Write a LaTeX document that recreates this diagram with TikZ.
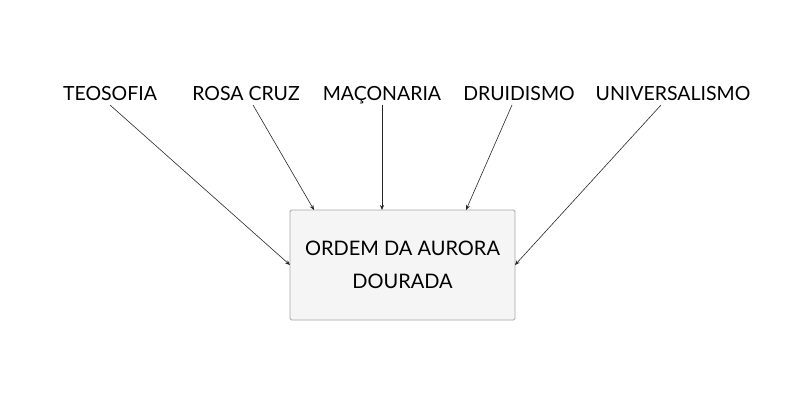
\documentclass[tikz,border=0pt]{standalone}
\usepackage{fontspec}
\setmainfont{Lato}
\usetikzlibrary{arrows.meta}
\begin{document}
\begin{tikzpicture}[x=1pt,y=1pt,
  lab/.style={font=\fontsize{19.5}{22}\selectfont, text=black, inner sep=0pt, anchor=base},
  conn/.style={draw=black!85, line width=0.6pt, -{Stealth[length=5pt,width=4pt]}},
  mainbox/.style={draw=black!35, fill=black!4, rounded corners=1.5pt, line width=0.8pt,
     minimum width=225pt, minimum height=110pt, align=center,
     font=\fontsize{20}{33}\selectfont}]
\useasboundingbox (0,0) rectangle (800,400);
\node[mainbox] (box) at (402.5,135) {ORDEM DA AURORA\\DOURADA};
\node[lab] (t) at (110,300) {TEOSOFIA};
\node[lab] (r) at (246,300) {ROSA CRUZ};
\node[lab] (m) at (382,300) {MAÇONARIA};
\node[lab] (d) at (519,300) {DRUIDISMO};
\node[lab] (u) at (673,300) {UNIVERSALISMO};
\coordinate (bt) at (290,135);
\coordinate (br) at (314,190);
\coordinate (bm) at (382,190);
\coordinate (bd) at (466,190);
\coordinate (bu) at (515,135);
\draw[conn] ([yshift=-5pt]t.base) -- (bt);
\draw[conn] ([xshift=7pt,yshift=-5pt]r.base) -- (br);
\draw[conn] ([yshift=-5pt]m.base) -- (bm);
\draw[conn] ([xshift=-7pt,yshift=-5pt]d.base) -- (bd);
\draw[conn] ([xshift=-12pt,yshift=-5pt]u.base) -- (bu);
\end{tikzpicture}
\end{document}
